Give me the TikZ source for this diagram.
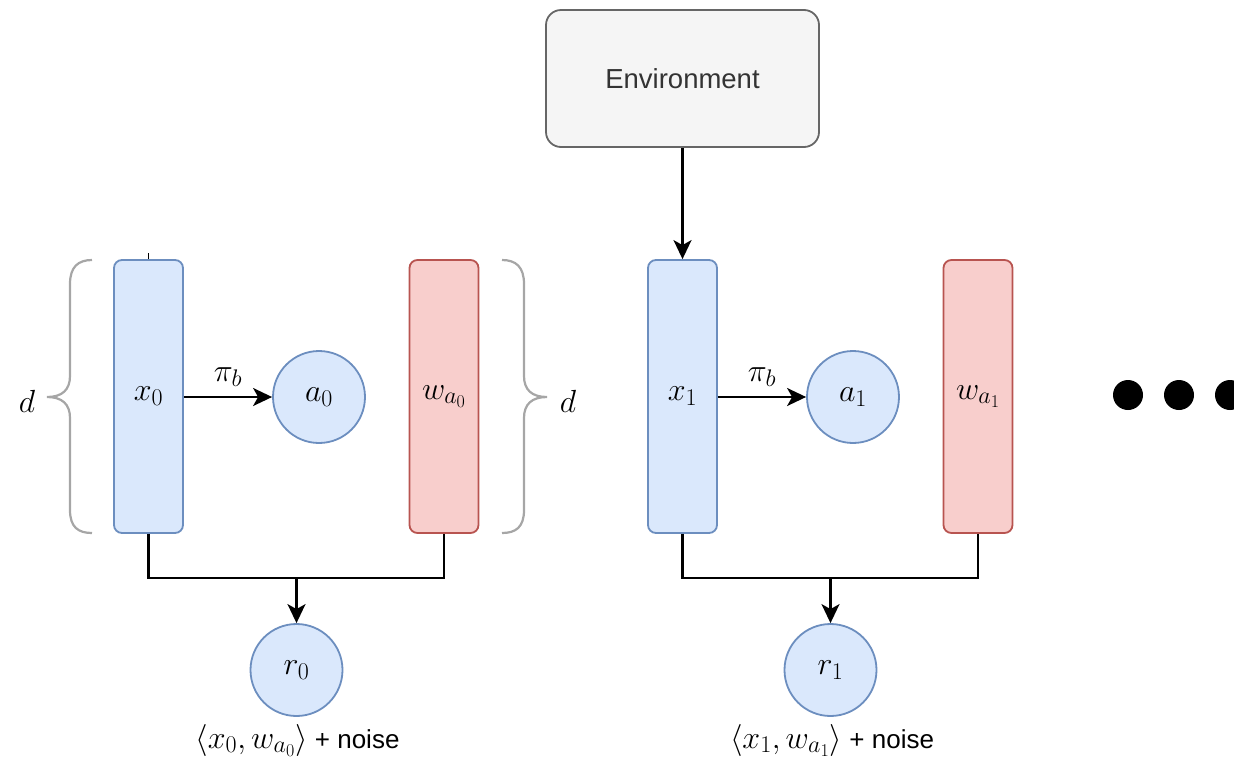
\RequirePackage{fix-cm}
\documentclass[tikz,border=0pt]{standalone}
\usepackage{fontspec}
\setmainfont{Liberation Sans}
\usetikzlibrary{arrows.meta,positioning}
\DeclareMathSizes{32}{32}{24}{18}
\DeclareMathSizes{26}{32}{24}{18}
\definecolor{bluefill}{HTML}{DAE8FC}
\definecolor{bluedraw}{HTML}{6C8EBF}
\definecolor{redfill}{HTML}{F8CECC}
\definecolor{reddraw}{HTML}{B85450}
\definecolor{envfill}{HTML}{F5F5F5}
\definecolor{envdraw}{HTML}{666666}
\definecolor{envtext}{HTML}{333333}
\definecolor{bracegray}{HTML}{A6A6A6}
\newcommand{\mfs}{\fontsize{32}{38}\selectfont}
\tikzset{
  big/.style={font=\mfs},
  vecx/.style={big, draw=bluedraw, fill=bluefill, line width=1.8pt, rounded corners=8pt,
    minimum width=69pt, minimum height=273pt, inner sep=0pt},
  vecw/.style={vecx, draw=reddraw, fill=redfill},
  ball/.style={big, circle, draw=bluedraw, fill=bluefill, line width=1.8pt,
    minimum size=92pt, inner sep=0pt},
  envbox/.style={draw=envdraw, fill=envfill, line width=1.8pt, rounded corners=15pt,
    minimum width=273pt, minimum height=137pt, text=envtext,
    font=\fontsize{27.5}{33}\selectfont},
  wire/.style={line width=2.2pt, black},
  arr/.style={wire, -{Stealth[length=19pt,width=18pt,inset=5pt]}},
  curly/.style={draw=bracegray, line width=2.2pt},
  lbl/.style={big, inner sep=0pt},
  note/.style={font=\fontsize{26}{31}\selectfont, inner sep=0pt},
  dot/.style={circle, fill=black, minimum size=30pt, inner sep=0pt},
}
\begin{document}
\begin{tikzpicture}[x=1pt,y=-1pt]
\useasboundingbox (0,0) rectangle (1234,761);
\clip (0,0) rectangle (1234,761);

% environment
\node[envbox] (env) at (682.5,78.5) {Environment};

% step 0
\node[vecx] (x0) at (148.5,396.5) {$x_0$};
\node[vecw] (w0) at (444,396.5) {$w_{a_0}$};
\node[ball] (a0) at (319,397) {$a_0$};
\node[ball] (r0) at (296.5,670) {$r_0$};
\coordinate (j0) at (296.5,578);
\coordinate (s0) at (148.5,253);

% step 1
\node[vecx] (x1) at (682.5,396.5) {$x_1$};
\node[vecw] (w1) at (978,396.5) {$w_{a_1}$};
\node[ball] (a1) at (853,397) {$a_1$};
\node[ball] (r1) at (830.5,670) {$r_1$};
\coordinate (j1) at (830.5,578);

% policy arrows
\draw[arr] (x0.east |- a0.west) -- node[lbl, above=9pt] {$\pi_b$} (a0.west);
\draw[arr] (x1.east |- a1.west) -- node[lbl, above=9pt] {$\pi_b$} (a1.west);

% reward wiring
\draw[wire] (x0.south) |- (j0) -| (w0.south);
\draw[arr] (j0) -- (r0.north);
\draw[wire] (x1.south) |- (j1) -| (w1.south);
\draw[arr] (j1) -- (r1.north);
\draw[line width=1.4pt] (s0) -- (x0.north);

% environment feeds the next context
\draw[arr] (env.south) -- (x1.north);

% reward labels
\node[note, anchor=base] (n0) at (297.5,748) {{\mfs$\langle x_0, w_{a_0}\rangle$} + noise};
\node[note, anchor=base] (n1) at (832,748) {{\mfs$\langle x_1, w_{a_1}\rangle$} + noise};

% dimension braces
\draw[curly] (92,260) .. controls (78,260) and (70,267) .. (70,284) -- (70,376)
  .. controls (70,390) and (62,397) .. (47,397)
  .. controls (62,397) and (70,404) .. (70,418) -- (70,510)
  .. controls (70,527) and (78,533) .. (92,533);
\draw[curly] (502,260) .. controls (516,260) and (524,267) .. (524,284) -- (524,376)
  .. controls (524,390) and (532,397) .. (547,397)
  .. controls (532,397) and (524,404) .. (524,418) -- (524,510)
  .. controls (524,527) and (516,533) .. (502,533);
\node[lbl] (d0) at (27,401) {$d$};
\node[lbl] (d1) at (568,401) {$d$};

% continuation
\node[dot] (c1) at (1128,395) {};
\node[dot] (c2) at (1179,395) {};
\node[dot] (c3) at (1230,395) {};
\end{tikzpicture}
\end{document}
